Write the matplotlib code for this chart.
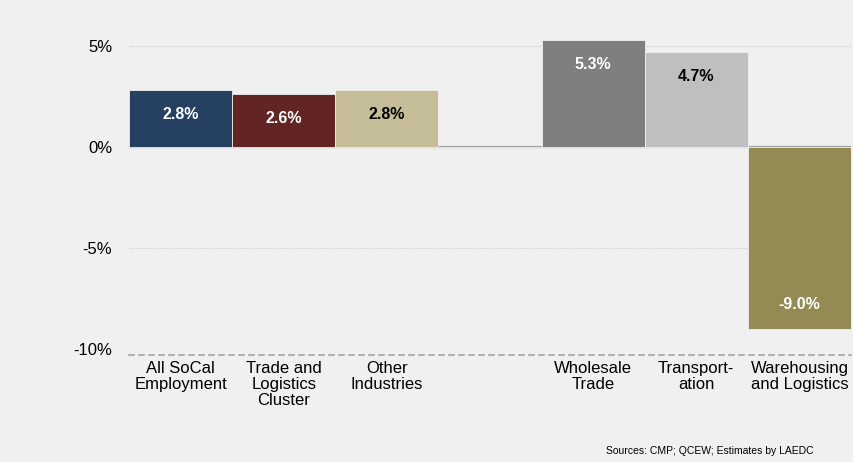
import matplotlib.pyplot as plt
import numpy as np

categories = ["All SoCal\nEmployment", "Trade and\nLogistics\nCluster", "Other\nIndustries", "",
              "Wholesale\nTrade", "Transport-\nation", "Warehousing\nand Logistics"]
values = [2.8, 2.6, 2.8, np.nan, 5.3, 4.7, -9.0]
labels = ["2.8%", "2.6%", "2.8%", "", "5.3%", "4.7%", "-9.0%"]
colors = ["#254061", "#632523", "#c4bd97", "#f0f0f0", "#7f7f7f", "#bfbfbf", "#948a54"]
label_colors = ["white", "white", "black", "black", "white", "black", "white"]
yticks = [-10, -5, 0, 5]

plt.rcParams['font.family'] = ['Liberation Sans', 'DejaVu Sans']

fig = plt.figure(figsize=(8.54, 4.62), dpi=100, facecolor="#f0f0f0")
ax = fig.add_axes([129 / 854, 1 - 355 / 462, (851 - 129) / 854, (355 - 10) / 462])
ax.set_facecolor("#f0f0f0")

x = np.arange(len(categories))
ax.bar(x, np.nan_to_num(values), width=1.0, color=colors, edgecolor="#f0f0f0", linewidth=0.6, zorder=3)

for xi, v, lab, c in zip(x, values, labels, label_colors):
    if np.isnan(v):
        continue
    ax.text(xi, v - np.sign(v) * 1.2, lab, ha="center", va="center",
            color=c, fontsize=11.5, fontweight="bold", zorder=4)

ax.set_xlim(-0.5, len(categories) - 0.5)
ax.set_ylim(-10.28, 6.77)
ax.set_yticks(yticks)
ax.set_yticklabels([f"{t}%" for t in yticks], fontsize=12)
ax.tick_params(axis="y", length=0, pad=12)
ax.set_xticks(x)
ax.set_xticklabels(categories, fontsize=12, linespacing=1.1, va="top")
ax.tick_params(axis="x", length=0, pad=4)

for t in [-5, 5]:
    ax.axhline(t, color="#d6d6d6", linestyle=(0, (2, 1)), linewidth=0.8, zorder=1)
ax.axhline(0, color="#a0a0a0", linewidth=1.6, zorder=2)

for s in ["top", "left", "right"]:
    ax.spines[s].set_visible(False)
ax.spines["bottom"].set_color("#a6a6a6")
ax.spines["bottom"].set_linestyle((0, (3, 3)))
ax.spines["bottom"].set_linewidth(1.2)

fig.text(814 / 854, 1 - 451 / 462, "Sources: CMP; QCEW; Estimates by LAEDC",
         ha="right", va="center", fontsize=7.5, color="black")

fig.savefig("out.png", dpi=100, facecolor=fig.get_facecolor())
